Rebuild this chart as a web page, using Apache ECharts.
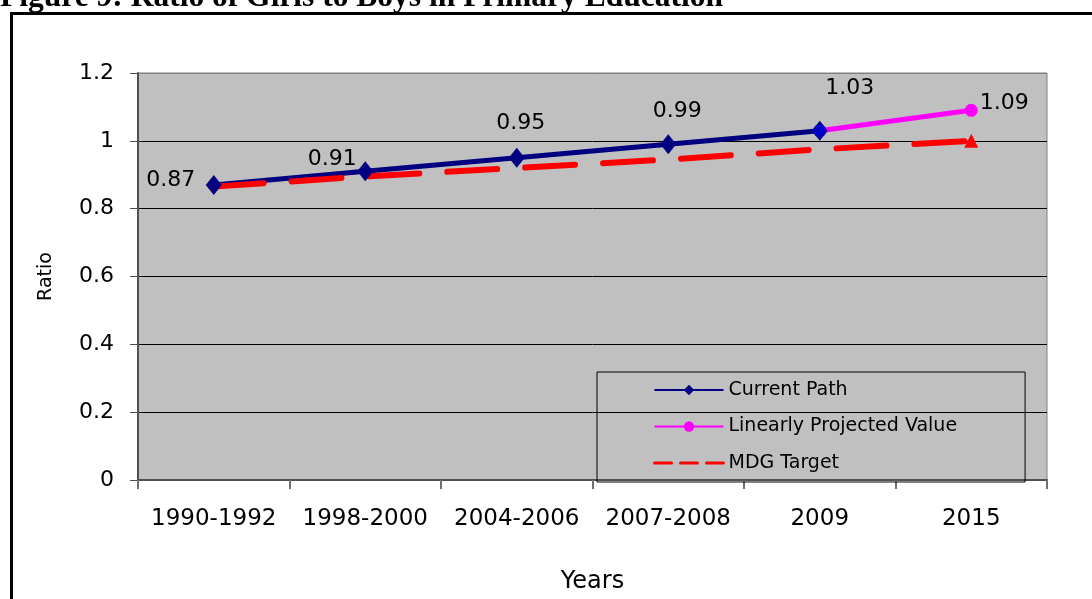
<!DOCTYPE html>
<html>
<head>
<meta charset="utf-8">
<title>Ratio of Girls to Boys in Primary Education</title>
<script src="https://cdn.jsdelivr.net/npm/echarts@6/dist/echarts.min.js"></script>
<style>
  html, body { margin: 0; padding: 0; background: #fff; }
  #chart { width: 1092px; height: 599px; }
</style>
</head>
<body>
<div id="chart"></div>
<script>
const categories = ['1990-1992', '1998-2000', '2004-2006', '2007-2008', '2009', '2015']
const currentPath = [0.87, 0.91, 0.95, 0.99, 1.03, '-']
const projected = ['-', '-', '-', '-', 1.03, 1.09]
const mdgTarget = [0.865, 0.895, 0.92, 0.945, 0.975, 1.0]

// where each value label sits relative to its point (px)
const labelOffsets = [[-43, -5], [-33, -12], [4, -35], [9, -33], [30, -42], [33, -7]]

const FONT = 'DejaVu Sans'

function labelFor(i) {
  return {
    show: true,
    position: 'inside',
    offset: labelOffsets[i],
    color: '#000',
    fontFamily: FONT,
    fontSize: 22,
    formatter: p => Number(p.value).toFixed(2)
  }
}

const chart = echarts.init(document.getElementById('chart'))

chart.setOption({
  animation: false,
  backgroundColor: '#fff',
  graphic: [
    {
      type: 'rect',
      shape: { x: 11.5, y: 13.5, width: 1200, height: 1000 },
      style: { fill: 'none', stroke: '#000', lineWidth: 3 },
      silent: true
    },
    {
      type: 'text',
      left: 0,
      top: -18,
      style: {
        text: 'Figure 9: Ratio of Girls to Boys in Primary Education',
        font: 'bold 31.5px "Liberation Serif", "Times New Roman", serif',
        fill: '#000'
      },
      silent: true
    }
  ],
  grid: {
    left: 138,
    right: 45,
    top: 73,
    bottom: 117,
    show: true,
    backgroundColor: '#c0c0c0',
    borderColor: '#808080',
    borderWidth: 1
  },
  legend: {
    orient: 'vertical',
    left: 597,
    top: 372,
    padding: [8, 68, 9, 56],
    itemWidth: 69,
    itemHeight: 13,
    itemGap: 16.5,
    borderColor: '#000',
    borderWidth: 1,
    textStyle: { fontFamily: FONT, fontSize: 19, color: '#000', lineHeight: 20 },
    lineStyle: { width: 2 },
    data: [
      { name: 'Current Path' },
      { name: 'Linearly Projected Value' },
      { name: 'MDG Target', itemStyle: { opacity: 0 }, lineStyle: { type: [17, 9], width: 3 } }
    ]
  },
  xAxis: {
    type: 'category',
    data: categories,
    boundaryGap: true,
    name: 'Years',
    nameLocation: 'middle',
    nameGap: 90,
    nameTextStyle: { fontFamily: FONT, fontSize: 24, color: '#000' },
    axisLine: { lineStyle: { color: '#505050', width: 2 } },
    axisTick: { show: true, length: 9, interval: 0, lineStyle: { color: '#707070', width: 2 } },
    axisLabel: { margin: 28, interval: 0, color: '#000', fontFamily: FONT, fontSize: 23 }
  },
  yAxis: {
    type: 'value',
    min: 0,
    max: 1.2,
    interval: 0.2,
    name: 'Ratio',
    nameLocation: 'middle',
    nameGap: 82,
    nameRotate: 90,
    nameTextStyle: { fontFamily: FONT, fontSize: 19, color: '#000' },
    axisLine: { show: true, lineStyle: { color: '#505050', width: 2 } },
    axisTick: { show: true, length: 8, lineStyle: { color: '#505050' } },
    axisLabel: { margin: 24, color: '#000', fontFamily: FONT, fontSize: 22 },
    splitLine: {
      show: true,
      lineStyle: { color: ['#000', '#000', '#000', '#000', '#000', '#000', '#808080'], width: 1 }
    }
  },
  series: [
    {
      name: 'Current Path',
      type: 'line',
      color: '#000080',
      symbol: 'diamond',
      symbolSize: [16, 20],
      lineStyle: { width: 5, color: '#000080' },
      data: currentPath.map((v, i) => v === '-' ? v : { value: v, label: labelFor(i) })
    },
    {
      name: 'Linearly Projected Value',
      type: 'line',
      color: '#ff00ff',
      symbol: 'circle',
      symbolSize: 13,
      lineStyle: { width: 5, color: '#ff00ff' },
      data: projected.map((v, i) => {
        if (v === '-') return v
        if (i === 4) return { value: v, itemStyle: { color: '#0000c8' } }
        return { value: v, label: labelFor(i) }
      })
    },
    {
      name: 'MDG Target',
      type: 'line',
      color: '#ff0000',
      symbol: 'triangle',
      symbolSize: 14,
      showSymbol: true,
      lineStyle: { width: 6, color: '#ff0000', type: [50, 28], cap: 'round' },
      data: mdgTarget.map((v, i) => i < mdgTarget.length - 1 ? { value: v, symbol: 'none' } : v)
    }
  ]
})
</script>
</body>
</html>
